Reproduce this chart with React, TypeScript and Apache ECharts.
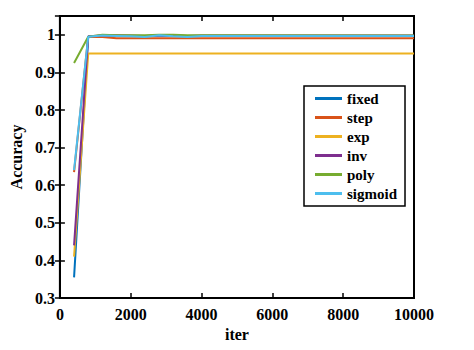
import React, { useEffect, useRef } from "react";
import * as echarts from "echarts";

const iters = [400, 800, 1200, 1600, 2000, 2400, 2800, 3200, 3600, 4000, 10000];
const fixedAcc = [0.355, 0.995, 0.998, 0.997, 0.997, 0.996, 0.998, 0.997, 0.996, 0.997, 0.997];
const stepAcc = [0.635, 0.995, 0.994, 0.991, 0.991, 0.991, 0.991, 0.991, 0.991, 0.991, 0.991];
const expAcc = [0.41, 0.95, 0.95, 0.95, 0.95, 0.95, 0.95, 0.95, 0.95, 0.95, 0.95];
const invAcc = [0.44, 0.996, 0.998, 0.999, 0.998, 0.997, 0.999, 0.998, 0.997, 0.998, 0.998];
const polyAcc = [0.925, 0.995, 1.0, 0.999, 0.999, 0.999, 1.0, 1.0, 0.999, 0.999, 0.998];
const sigmoidAcc = [0.64, 0.995, 0.998, 0.997, 0.996, 0.994, 0.999, 0.996, 0.994, 0.997, 0.997];

const seriesNames = ["fixed", "step", "exp", "inv", "poly", "sigmoid"];
const seriesData = [fixedAcc, stepAcc, expAcc, invAcc, polyAcc, sigmoidAcc];
const colors = ["#0072BD", "#D95319", "#EDB120", "#7E2F8E", "#77AC30", "#4DBEEE"];

const FONT = "'Liberation Serif', 'Times New Roman', serif";

export default function App() {
  const ref = useRef<HTMLDivElement>(null);
  useEffect(() => {
    if (!ref.current) return;
    const chart = echarts.init(ref.current, undefined, { renderer: "svg" });
    const labelStyle = { color: "#000", fontFamily: FONT, fontWeight: "bold" as const, fontSize: 16 };
    const tick = { show: true, inside: true, length: 5, lineStyle: { color: "#000", width: 1.5 } };
    chart.setOption({
      animation: false,
      backgroundColor: "#fff",
      grid: { left: 53, right: 60, top: 16, bottom: 52, show: true, borderColor: "#000", borderWidth: 2 },
      xAxis: [
        {
          type: "value", min: 0, max: 10000, interval: 2000, position: "bottom",
          name: "iter", nameLocation: "middle", nameGap: 26,
          nameTextStyle: { ...labelStyle, fontSize: 16 },
          axisLine: { show: true, lineStyle: { color: "#000", width: 2 } },
          axisTick: tick,
          axisLabel: { ...labelStyle, margin: 8, formatter: (v: number) => String(v) },
          splitLine: { show: false },
        },
        {
          type: "value", min: 0, max: 10000, interval: 2000, position: "top",
          axisLine: { show: true, lineStyle: { color: "#000", width: 2 } },
          axisTick: tick, axisLabel: { show: false }, splitLine: { show: false },
        },
      ],
      yAxis: [
        {
          type: "value", min: 0.3, max: 1.05, interval: 0.1, position: "left",
          name: "Accuracy", nameLocation: "middle", nameGap: 32,
          nameTextStyle: { ...labelStyle, fontSize: 16 },
          axisLine: { show: true, lineStyle: { color: "#000", width: 2 } },
          axisTick: tick,
          axisLabel: { ...labelStyle, margin: 5, showMaxLabel: false },
          splitLine: { show: false },
        },
        {
          type: "value", min: 0.3, max: 1.05, interval: 0.1, position: "right",
          axisLine: { show: true, lineStyle: { color: "#000", width: 2 } },
          axisTick: tick, axisLabel: { show: false }, splitLine: { show: false },
        },
      ],
      legend: {
        orient: "vertical",
        left: 304,
        top: 86,
        width: 106,
        padding: [5, 8, 5, 11],
        backgroundColor: "#fff",
        borderColor: "#000",
        borderWidth: 1.5,
        borderRadius: 0,
        itemWidth: 27,
        itemHeight: 3,
        itemGap: 4,
        icon: "rect",
        data: seriesNames,
        textStyle: { ...labelStyle, fontSize: 15, lineHeight: 15, padding: [0, 0, 0, 0] },
      },
      series: seriesNames.map((name, i) => ({
        name,
        type: "line",
        xAxisIndex: 0,
        yAxisIndex: 0,
        symbol: "none",
        color: colors[i],
        lineStyle: { color: colors[i], width: 2 },
        data: iters.map((x, j) => [x, seriesData[i][j]]),
      })),
    });
    return () => chart.dispose();
  }, []);
  return <div ref={ref} style={{ width: 474, height: 350, margin: -8 }} />;
}
